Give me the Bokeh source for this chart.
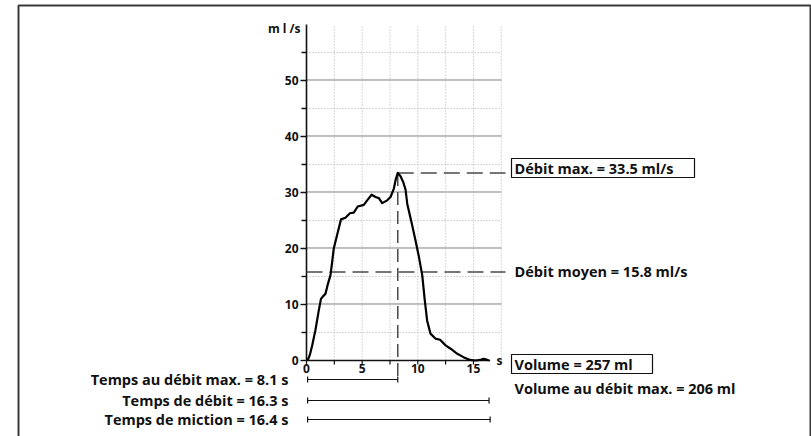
from bokeh.plotting import figure
from bokeh.models import Range1d, ColumnDataSource
from bokeh.core.properties import value
from bokeh.embed import file_html
from bokeh.resources import INLINE

# --- uroflowmetry data -------------------------------------------------
time_s = [0.1, 0.3, 0.5, 0.8, 1.1, 1.3, 1.5, 1.7, 1.9, 2.15, 2.3, 2.45, 2.75,
          3.1, 3.5, 3.9, 4.25, 4.6, 5.15, 5.45, 5.85, 6.2, 6.5, 6.8, 7.25,
          7.55, 7.85, 8.0, 8.2, 8.45, 8.7, 8.9, 9.05, 9.5, 9.8, 10.1, 10.4,
          10.63, 10.84, 11.14, 11.6, 12.0, 12.5, 12.95, 13.55, 14.1, 14.7,
          15.2, 15.6, 15.9, 16.2, 16.4]
flow_mls = [0.0, 1.0, 2.6, 5.4, 8.9, 11.0, 11.5, 11.9, 13.5, 15.2, 17.5, 20.0,
            22.4, 25.2, 25.5, 26.3, 26.4, 27.5, 27.8, 28.6, 29.6, 29.2, 29.0,
            28.1, 28.6, 29.2, 30.7, 32.2, 33.5, 32.9, 31.8, 30.5, 28.0, 24.1,
            21.4, 18.5, 15.2, 10.7, 7.1, 4.8, 3.9, 3.7, 2.7, 2.1, 1.2, 0.6,
            0.1, 0.0, 0.1, 0.3, 0.15, 0.0]

y_major_ticks = [0, 10, 20, 30, 40, 50]
y_minor_ticks = [5, 15, 25, 35, 45, 55]
x_major_ticks = [0, 5, 10, 15]
x_minor_ticks = [2.5, 7.5, 12.5]
x_grid = [2.5, 5, 7.5, 10, 12.5, 15, 17.5]
y_top = 60
x_grid_end = 17.5
x_axis_end = 16.5

flow_start = 0.1
max_flow = 33.5
mean_flow = 15.8
time_to_max = 8.1
flow_time = 16.3
voiding_time = 16.4
volume = 257
volume_at_max = 206

# --- page scale: pixels per unit, origin of the axes on the page -------
W, H = 811, 436
OX, OY = 306, 360
KX, KY = 11.13, 5.6


def px(v):
    return (v - OX) / KX


def py(v):
    return (OY - v) / KY


p = figure(width=W, height=H, output_backend="svg", toolbar_location=None,
           x_range=Range1d(px(0), px(W)), y_range=Range1d(py(H), py(0)),
           x_axis_location=None, y_axis_location=None, min_border=0,
           outline_line_color=None, background_fill_color="white",
           border_fill_color="white")
p.grid.visible = False

FONT = value("Open Sans")
INK = "#111111"

# outer frame
p.quad(left=[px(18)], right=[px(810)], top=[py(5)], bottom=[py(H + 10)],
       fill_color=None, line_color="#3a3a3a", line_width=2)

# grid
p.segment(x0=[0] * len(y_minor_ticks), x1=[x_grid_end] * len(y_minor_ticks),
          y0=y_minor_ticks, y1=y_minor_ticks, line_color="#aaaaaa",
          line_width=1, line_dash="1 2")
p.segment(x0=[0] * 5, x1=[x_grid_end] * 5, y0=[v + 0.09 for v in y_major_ticks[1:]],
          y1=[v + 0.09 for v in y_major_ticks[1:]], line_color="#000000",
          line_width=1, line_dash="1 1")
p.segment(x0=x_grid, x1=x_grid, y0=[0] * len(x_grid), y1=[y_top] * len(x_grid),
          line_color="#b0b0b0", line_width=1, line_dash="1 2")

# axes
p.line(x=[0, 0], y=[0, y_top], line_color=INK, line_width=1.6)
p.line(x=[0, x_axis_end], y=[0, 0], line_color=INK, line_width=1.6)
p.segment(x0=[px(OX - 6)] * len(y_major_ticks), x1=[0] * len(y_major_ticks),
          y0=y_major_ticks, y1=y_major_ticks, line_color=INK, line_width=1.4)
p.segment(x0=[px(OX - 5)] * len(y_minor_ticks), x1=[0] * len(y_minor_ticks),
          y0=y_minor_ticks, y1=y_minor_ticks, line_color=INK, line_width=1.4)
xt = x_major_ticks + x_minor_ticks
p.segment(x0=xt, x1=xt, y0=[0] * len(xt), y1=[py(OY + 4)] * len(xt),
          line_color=INK, line_width=1.2)

p.text(x=[px(298)] * len(y_major_ticks), y=y_major_ticks,
       text=[str(v) for v in y_major_ticks], text_font=FONT,
       text_font_style="bold", text_font_size="12px", text_align="right",
       text_baseline="middle", text_color=INK)
p.text(x=x_major_ticks, y=[py(OY + 3)] * len(x_major_ticks),
       text=[str(v) for v in x_major_ticks], text_font=FONT,
       text_font_style="bold", text_font_size="12px", text_align="center",
       text_baseline="top", text_color=INK)
p.text(x=[px(300)], y=[py(28)], text=["m l /s"], text_font=FONT,
       text_font_style="bold", text_font_size="12px", text_align="right",
       text_baseline="middle", text_color=INK)
p.text(x=[px(496)], y=[0], text=["s"], text_font=FONT,
       text_font_style="bold", text_font_size="12px", text_align="left",
       text_baseline="middle", text_color=INK)

# reference lines: max flow and mean flow
t_max = flow_start + time_to_max
line_end = px(505)
p.line(x=[t_max, line_end], y=[max_flow, max_flow], line_color="#4a4a4a",
       line_width=1.5, line_dash="16 7")
p.line(x=[0, line_end], y=[mean_flow, mean_flow], line_color="#4a4a4a",
       line_width=1.5, line_dash="16 7")
row_max, row_flow, row_void = py(379), py(400), py(419)
p.line(x=[t_max, t_max], y=[max_flow, row_max], line_color="#4a4a4a",
       line_width=1.5, line_dash="13 6")

# flow curve
src = ColumnDataSource(dict(t=time_s, q=flow_mls))
p.line("t", "q", source=src, line_color="black", line_width=2.2,
       line_join="round")

# time bars under the axis
bars_x0 = [flow_start] * 3
bars_x1 = [flow_start + time_to_max, flow_start + flow_time,
           flow_start + voiding_time]
bars_y = [row_max, row_flow, row_void]
cap = 3 / KY
p.segment(x0=bars_x0, x1=bars_x1, y0=bars_y, y1=bars_y, line_color=INK,
          line_width=1.2)
p.segment(x0=bars_x0 + bars_x1, x1=bars_x0 + bars_x1,
          y0=[y - cap for y in bars_y] * 2, y1=[y + cap for y in bars_y] * 2,
          line_color=INK, line_width=1.2)

LABEL = dict(text_font=FONT, text_font_style="bold", text_font_size="14.5px",
             text_baseline="middle", text_color=INK)
p.text(x=[px(288)] * 3, y=bars_y,
       text=[f"Temps au débit max. = {time_to_max} s",
             f"Temps de débit = {flow_time} s",
             f"Temps de miction = {voiding_time} s"],
       text_align="right", **LABEL)

# result labels on the right
p.quad(left=[px(511)], right=[px(694)], top=[py(158)], bottom=[py(177)],
       fill_color="white", line_color=INK, line_width=1.2)
p.quad(left=[px(511)], right=[px(652)], top=[py(354)], bottom=[py(373)],
       fill_color="white", line_color=INK, line_width=1.2)
p.text(x=[px(514)] * 4, y=[py(167.5), py(271), py(363.5), py(388)],
       text=[f"Débit max. = {max_flow} ml/s",
             f"Débit moyen = {mean_flow} ml/s",
             f"Volume = {volume} ml",
             f"Volume au débit max. = {volume_at_max} ml"],
       text_align="left", **LABEL)

open("out.html", "w").write(file_html(p, INLINE))
